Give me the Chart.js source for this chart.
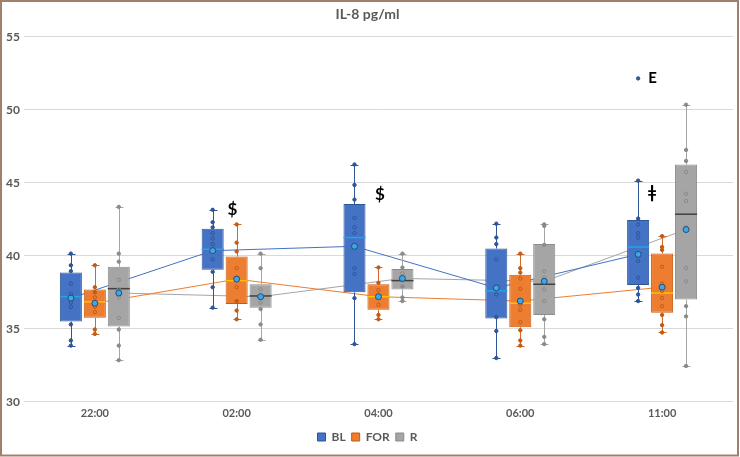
<!DOCTYPE html>
<html>
<head>
<meta charset="utf-8">
<script src="https://cdn.jsdelivr.net/npm/chart.js@4.4.1/dist/chart.umd.min.js"></script>
<style>
  html, body { margin: 0; padding: 0; background: #fff; }
  #wrap { width: 740px; height: 457px; position: relative; }
</style>
</head>
<body>
<div id="wrap"><canvas id="chart"></canvas></div>
<script>
// categories and series
var categories = ['22:00', '02:00', '04:00', '06:00', '11:00'];
var seriesNames = ['BL', 'FOR', 'R'];

// box statistics, one row per series (BL, FOR, R)
var q1 = [
  [35.5, 39.05, 37.5, 35.7, 38.0],
  [35.75, 36.7, 36.3, 35.1, 36.1],
  [35.15, 36.45, 37.7, 35.95, 37.0]
];
var q3 = [
  [38.85, 41.85, 43.55, 40.5, 42.45],
  [37.7, 39.95, 38.05, 38.7, 40.15],
  [39.25, 38.05, 39.1, 40.8, 46.25]
];
var medians = [
  [37.2, 40.45, 41.25, 37.6, 40.6],
  [36.85, 38.3, 37.2, 36.75, 37.45],
  [37.75, 37.25, 38.3, 38.05, 42.85]
];
var means = [
  [37.1, 40.35, 40.65, 37.8, 40.1],
  [36.75, 38.4, 37.2, 36.9, 37.85],
  [37.45, 37.2, 38.45, 38.25, 41.8]
];
var whiskerLow = [
  [33.85, 36.45, 33.95, 33.0, 36.9],
  [34.65, 35.65, 35.65, 33.85, 34.75],
  [32.85, 34.25, 36.9, 33.95, 32.45]
];
var whiskerHigh = [
  [40.15, 43.15, 46.25, 42.2, 45.15],
  [39.35, 42.15, 39.2, 40.15, 41.35],
  [43.35, 40.15, 40.15, 42.15, 50.35]
];

// individual values per series and category
var pointsBL = [
  [40.15, 39.35, 38.95, 38.1, 37.4, 36.8, 36.5, 35.3, 34.2, 33.85],
  [43.15, 42.3, 41.95, 41.55, 41.2, 40.8, 39.75, 38.9, 37.85, 36.45],
  [46.25, 44.85, 43.85, 42.6, 41.95, 41.55, 39.15, 38.75, 37.1, 33.95],
  [42.2, 41.25, 40.8, 39.75, 37.35, 35.8, 34.85, 33.0],
  [45.15, 42.55, 42.15, 41.55, 41.25, 39.65, 38.5, 37.8, 37.35, 36.9]
];
var pointsFOR = [
  [39.35, 37.85, 37.5, 37.15, 36.5, 36.15, 34.95, 34.65],
  [42.15, 40.9, 40.3, 39.15, 38.5, 37.85, 36.9, 36.25, 35.65],
  [39.2, 38.15, 37.65, 36.65, 35.95, 35.65],
  [40.15, 39.15, 38.85, 38.45, 37.75, 36.65, 36.3, 35.45, 34.9, 34.2, 33.85],
  [41.35, 40.6, 40.4, 39.25, 38.1, 37.6, 37.1, 36.55, 35.95, 35.25, 34.75]
];
var pointsR = [
  [43.35, 40.15, 39.6, 38.35, 37.7, 37.15, 35.75, 34.95, 33.85, 32.85],
  [40.15, 39.15, 37.7, 36.8, 36.35, 35.3, 34.25],
  [40.15, 39.2, 38.8, 38.3, 37.9, 37.15, 36.9],
  [42.15, 42.05, 40.75, 38.95, 38.5, 37.7, 36.9, 35.65, 34.45, 33.95],
  [50.35, 47.25, 46.5, 45.75, 44.25, 43.75, 41.95, 39.15, 38.25, 36.55, 35.85, 32.45]
];
var pointValues = [pointsBL, pointsFOR, pointsR];

// outlier
var outlierSeries = [0];
var outlierCategory = [4];
var outlierValues = [52.15];
var outlierLabels = ['E'];

// significance marks
var markText = ['$', '$', '\u01C2'];
var markX = [0.97, 2.01, 3.93];
var markValue = [43.15, 44.2, 44.35];

// styles
var boxFill = ['#4472c4', '#ed7d31', '#a5a5a5'];
var boxBorder = ['#2f5597', '#c55a11', '#8c8c8c'];
var whiskerColor = ['#2f5597', '#d06a28', '#a5a5a5'];
var medianColor = ['#1fa5e8', '#ffc000', '#404040'];
var lineColor = ['#4472c4', '#ed7d31', '#a5a5a5'];
var dotColor = ['#2f5597', '#c55a11', '#8a8a8a'];

var slot = 0.169;      // spacing of the three boxes inside a category
var boxPct = 0.92;     // box width as part of that spacing

Chart.defaults.font.family = 'Lato, "Open Sans", sans-serif';

var datasets = [];

seriesNames.forEach(function (name, s) {
  var off = (s - 1) * slot;
  datasets.push({
    type: 'bar',
    label: name,
    boxSeries: s,
    data: categories.map(function (c, i) { return { x: i + off, y: [q1[s][i], q3[s][i]] }; }),
    backgroundColor: boxFill[s],
    borderColor: boxBorder[s],
    borderWidth: 1,
    borderSkipped: false,
    grouped: false,
    categoryPercentage: 1,
    barPercentage: boxPct,
    xAxisID: 'xl',
    order: 5
  });
  datasets.push({
    type: 'line',
    label: name + ' mean line',
    data: categories.map(function (c, i) { return { x: i + off, y: means[s][i] }; }),
    borderColor: lineColor[s],
    borderWidth: 1,
    pointRadius: 0,
    xAxisID: 'xl',
    order: 10
  });
  var pts = [];
  categories.forEach(function (c, i) {
    pointValues[s][i].forEach(function (v) { pts.push({ x: i + off, y: v, c: i }); });
  });
  outlierValues.forEach(function (v, k) {
    if (outlierSeries[k] === s) pts.push({ x: outlierCategory[k] + off, y: v, c: -1 });
  });
  datasets.push({
    type: 'scatter',
    label: name + ' points',
    data: pts,
    pointRadius: 1.7,
    pointBorderWidth: 1,
    pointBorderColor: dotColor[s],
    pointBackgroundColor: function (ctx) {
      var r = ctx.raw;
      if (!r || r.c < 0) return dotColor[s];
      var inside = r.y > q1[s][r.c] + 0.2 && r.y < q3[s][r.c] - 0.2;
      return inside ? 'rgba(0,0,0,0)' : dotColor[s];
    },
    xAxisID: 'xl',
    order: 2
  });
  datasets.push({
    type: 'scatter',
    label: name + ' mean',
    data: categories.map(function (c, i) { return { x: i + off, y: means[s][i] }; }),
    pointRadius: 3,
    pointBorderWidth: 1,
    pointBackgroundColor: '#3fa7e3',
    pointBorderColor: '#1f4e79',
    xAxisID: 'xl',
    order: 1
  });
});

var boxParts = {
  id: 'boxParts',
  beforeDraw: function (chart) {
    var ctx = chart.ctx;
    ctx.save();
    ctx.fillStyle = '#ffffff';
    ctx.fillRect(0, 0, chart.width, chart.height);
    ctx.restore();
  },
  afterDatasetDraw: function (chart, args) {
    var ds = chart.data.datasets[args.index];
    if (ds.boxSeries === undefined) return;
    var s = ds.boxSeries;
    var y = chart.scales.y;
    var ctx = chart.ctx;
    ctx.save();
    args.meta.data.forEach(function (bar, i) {
      var x = Math.round(bar.x) + 0.5;
      var half = bar.width / 2;
      ctx.strokeStyle = whiskerColor[s];
      ctx.lineWidth = 1;
      ctx.beginPath();
      ctx.moveTo(x, y.getPixelForValue(whiskerHigh[s][i]));
      ctx.lineTo(x, y.getPixelForValue(q3[s][i]));
      ctx.moveTo(x, y.getPixelForValue(q1[s][i]));
      ctx.lineTo(x, y.getPixelForValue(whiskerLow[s][i]));
      var yh = Math.round(y.getPixelForValue(whiskerHigh[s][i])) + 0.5;
      var yl = Math.round(y.getPixelForValue(whiskerLow[s][i])) + 0.5;
      ctx.moveTo(x - 4, yh); ctx.lineTo(x + 4, yh);
      ctx.moveTo(x - 4, yl); ctx.lineTo(x + 4, yl);
      ctx.stroke();
      ctx.strokeStyle = medianColor[s];
      ctx.lineWidth = 1.5;
      ctx.beginPath();
      var ym = y.getPixelForValue(medians[s][i]);
      ctx.moveTo(bar.x - half, ym);
      ctx.lineTo(bar.x + half, ym);
      ctx.stroke();
    });
    ctx.restore();
  },
  afterDraw: function (chart) {
    var ctx = chart.ctx;
    var xl = chart.scales.xl;
    var y = chart.scales.y;
    ctx.save();
    ctx.fillStyle = '#000000';
    ctx.font = 'bold 17px Lato, sans-serif';
    ctx.textAlign = 'center';
    ctx.textBaseline = 'middle';
    markText.forEach(function (t, k) {
      ctx.fillText(t, xl.getPixelForValue(markX[k]), y.getPixelForValue(markValue[k]));
    });
    ctx.font = 'bold 15px Lato, sans-serif';
    ctx.textAlign = 'left';
    outlierValues.forEach(function (v, k) {
      var px = xl.getPixelForValue(outlierCategory[k] + (outlierSeries[k] - 1) * slot);
      ctx.fillText(outlierLabels[k], px + 10, y.getPixelForValue(v));
    });
    ctx.strokeStyle = '#a0806a';
    ctx.lineWidth = 2;
    ctx.strokeRect(1, 1, chart.width - 3, chart.height - 2.5);
    ctx.restore();
  }
};

var ctx = document.getElementById('chart').getContext('2d');
var chart = new Chart(ctx, {
  type: 'bar',
  data: { labels: categories, datasets: datasets },
  plugins: [boxParts],
  options: {
    responsive: true,
    maintainAspectRatio: false,
    animation: false,
    layout: { padding: { left: 2, right: 7, top: 0, bottom: 4 } },
    plugins: {
      title: {
        display: true,
        text: 'IL-8 pg/ml',
        color: '#595959',
        font: { size: 14, weight: 'bold' },
        padding: { top: 6, bottom: 14 }
      },
      legend: {
        position: 'bottom',
        labels: {
          filter: function (item, data) { return data.datasets[item.datasetIndex].boxSeries !== undefined; },
          boxWidth: 8,
          boxHeight: 8,
          padding: 6,
          color: '#595959',
          font: { size: 12, weight: 'bold' }
        }
      },
      tooltip: { enabled: false }
    },
    scales: {
      x: {
        type: 'category',
        labels: categories,
        offset: true,
        grid: { display: false, drawTicks: false },
        border: { display: false },
        ticks: { color: '#595959', font: { size: 11, weight: 'bold' }, padding: 5 }
      },
      xl: {
        type: 'linear',
        display: false,
        offset: false,
        grid: { offset: false },
        min: -0.5,
        max: 4.5,
        ticks: { stepSize: 0.5 }
      },
      y: {
        min: 30,
        max: 55,
        ticks: { stepSize: 5, color: '#595959', font: { size: 12, weight: 'bold' }, padding: 4 },
        grid: { color: '#d9d9d9', drawTicks: false },
        border: { display: false }
      }
    }
  }
});
</script>
</body>
</html>
